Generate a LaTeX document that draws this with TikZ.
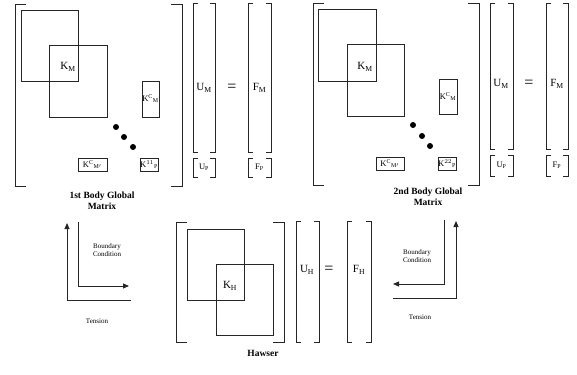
\documentclass[tikz,border=0pt]{standalone}
\usepackage{fontspec}
\setmainfont{Liberation Serif}
\usetikzlibrary{arrows.meta}
\newcommand\brk[5]{%
  \draw[ln] (#1+#5,#2) -- (#1,#2) -- (#1,#4) -- (#1+#5,#4);
  \draw[ln] (#3-#5,#2) -- (#3,#2) -- (#3,#4) -- (#3-#5,#4);}
\begin{document}
\begin{tikzpicture}[x=1pt,y=-1pt,
  ln/.style={draw=black!85,line width=0.9pt},
  blk/.style={ln},
  ent/.style={font=\fontsize{11}{12}\selectfont,inner sep=0pt},
  sent/.style={font=\fontsize{8.5}{9}\selectfont,inner sep=0pt},
  ttl/.style={font=\fontsize{9.5}{10.5}\selectfont\bfseries,align=center,inner sep=0pt},
  lab/.style={font=\fontsize{7}{8.5}\selectfont,align=center,inner sep=0pt},
  arr/.style={ln,-{Triangle[length=6pt,width=5pt]}},
  dot/.style={circle,fill=black,inner sep=0pt,minimum size=6pt}]
\useasboundingbox (0,0) rectangle (577,374);
% ---------- first body matrix ----------
\brk{15}{4}{182}{186}{11}
\draw[blk] (21,10) rectangle (78,81);
\draw[blk] (49,45) rectangle (107,117);
\node[ent] (k1) at (68,67) {K$_{\mathrm{M}}$};
\draw[blk] (142,81) rectangle (159,117);
\node[sent] (k1c) at (150.5,99) {K$^{\mathrm{C}}{}_{\mathrm{M}}$};
\node[dot] (d11) at (116,127) {};
\node[dot] (d12) at (124,137) {};
\node[dot] (d13) at (133,147) {};
\draw[blk] (78,158) rectangle (107,171);
\node[sent] (k1cm) at (92.5,164.5) {K$^{\mathrm{C}}{}_{\mathrm{M'}}$};
\draw[blk] (140,158) rectangle (158,171);
\node[sent] (k1p) at (149,164.5) {K$^{11}{}_{\mathrm{P}}$};
\brk{193}{3}{215}{152}{5}
\node[ent] (u1) at (204,88) {U$_{\mathrm{M}}$};
\node[ent] (e1) at (232,88) {\fontsize{16}{16}\selectfont =};
\brk{248}{3}{271}{152}{5}
\node[ent] (f1) at (259.5,88) {F$_{\mathrm{M}}$};
\brk{193}{158}{215}{177}{5}
\node[sent] (up1) at (204,167.5) {U$_{\mathrm{P}}$};
\brk{248}{158}{271}{177}{5}
\node[sent] (fp1) at (259.5,167.5) {F$_{\mathrm{P}}$};
\node[ttl] (t1) at (102,201) {1st Body Global\\Matrix};
% ---------- second body matrix ----------
\brk{313}{3}{479}{185}{11}
\draw[blk] (318,9) rectangle (376,81);
\draw[blk] (347,44) rectangle (404,116);
\node[ent] (k2) at (365,67) {K$_{\mathrm{M}}$};
\draw[blk] (439,79) rectangle (457,114);
\node[sent] (k2c) at (448,96.5) {K$^{\mathrm{C}}{}_{\mathrm{M}}$};
\node[dot] (d21) at (413,125) {};
\node[dot] (d22) at (422,136) {};
\node[dot] (d23) at (430,146) {};
\draw[blk] (376,157) rectangle (404,170);
\node[sent] (k2cm) at (390,163.5) {K$^{\mathrm{C}}{}_{\mathrm{M'}}$};
\draw[blk] (438,157) rectangle (456,170);
\node[sent] (k2p) at (447,163.5) {K$^{22}{}_{\mathrm{P}}$};
\brk{490}{3}{513}{149}{5}
\node[ent] (u2) at (501,84) {U$_{\mathrm{M}}$};
\node[ent] (e2) at (529,84) {\fontsize{16}{16}\selectfont =};
\brk{546}{3}{568}{149}{5}
\node[ent] (f2) at (557,84) {F$_{\mathrm{M}}$};
\brk{490}{155}{513}{176}{5}
\node[sent] (up2) at (501.5,165.5) {U$_{\mathrm{P}}$};
\brk{546}{155}{568}{176}{5}
\node[sent] (fp2) at (557,165.5) {F$_{\mathrm{P}}$};
\node[ttl] (t2) at (428,197) {2nd Body Global\\Matrix};
% ---------- hawser matrix ----------
\brk{176}{222}{284}{342}{11}
\draw[blk] (187,229) rectangle (244,300);
\draw[blk] (216,264) rectangle (273,335);
\node[ent] (kh) at (230,286) {K$_{\mathrm{H}}$};
\brk{296}{221}{319}{342}{5}
\node[ent] (uh) at (307,270) {U$_{\mathrm{H}}$};
\node[ent] (eh) at (329,270) {\fontsize{16}{16}\selectfont =};
\brk{347}{221}{371}{342}{5}
\node[ent] (fh) at (359,270) {F$_{\mathrm{H}}$};
\node[ttl] (th) at (263,353) {Hawser};
% ---------- left arrows ----------
\coordinate (la1) at (131,300);
\coordinate (la2) at (67,300);
\coordinate (la3) at (67,223);
\draw[arr] (la1) -- (la2) -- (la3);
\coordinate (lb1) at (78,222);
\coordinate (lb2) at (78,286);
\coordinate (lb3) at (129,286);
\draw[arr] (lb1) -- (lb2) -- (lb3);
\node[lab] (lbc) at (107,250) {Boundary\\Condition};
\node[lab] (lt) at (97,321) {Tension};
% ---------- right arrows ----------
\coordinate (ra1) at (393,298);
\coordinate (ra2) at (456,298);
\coordinate (ra3) at (456,221);
\draw[arr] (ra1) -- (ra2) -- (ra3);
\coordinate (rb1) at (444,220);
\coordinate (rb2) at (444,284);
\coordinate (rb3) at (393,284);
\draw[arr] (rb1) -- (rb2) -- (rb3);
\node[lab] (rbc) at (417,256) {Boundary\\Condition};
\node[lab] (rt) at (420,317) {Tension};
\end{tikzpicture}
\end{document}
